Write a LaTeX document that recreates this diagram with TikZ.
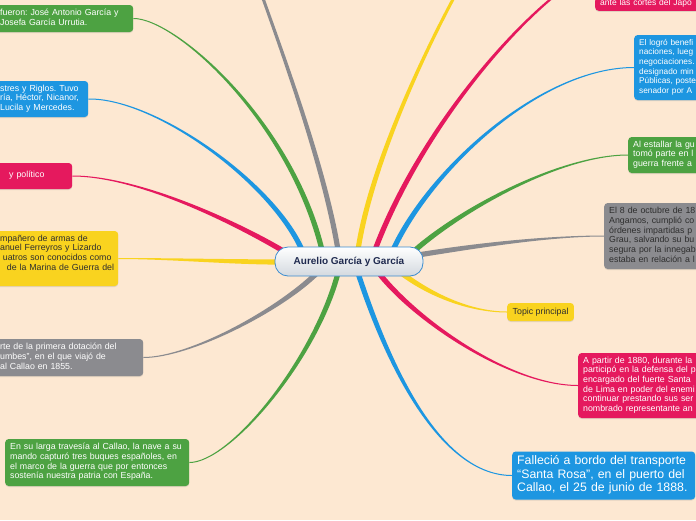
\documentclass[tikz,border=0pt]{standalone}
\usepackage{fontspec}
\setmainfont{Liberation Sans}
\usetikzlibrary{calc,shadows}
\definecolor{bgc}{HTML}{FDE8D2}
\definecolor{cgreen}{HTML}{4DA242}
\definecolor{cblue}{HTML}{1D96E1}
\definecolor{cpink}{HTML}{E5195E}
\definecolor{cyellow}{HTML}{F9D31F}
\definecolor{cgray}{HTML}{8B8B8F}
\definecolor{cnavy}{HTML}{1F2A4F}
\definecolor{cborder}{HTML}{3C8DD0}
\definecolor{cbot}{HTML}{D3D9DF}
\definecolor{cdark}{HTML}{2E2E2E}
\pgfdeclarelayer{bg}\pgfdeclarelayer{lines}\pgfsetlayers{bg,lines,main}
% #1 colour, #2 start, #3 control 1, #4 control 2, #5 end, #6 end half width
\newcommand\taper[6]{%
  \coordinate (tA) at ($(#2)!2.6pt!90:(#3)$);
  \coordinate (tB) at ($(#2)!2.6pt!-90:(#3)$);
  \coordinate (tC) at ($(#5)!#6!-90:(#4)$);
  \coordinate (tD) at ($(#5)!#6!90:(#4)$);
  \fill[#1] (tA) .. controls ($(#3)+(tA)-(#2)$) and ($(#4)+(tC)-(#5)$) .. (tC)
    -- (tD) .. controls ($(#4)+(tD)-(#5)$) and ($(#3)+(tB)-(#2)$) .. (tB) -- cycle;
}
\begin{document}
\begin{tikzpicture}[x=1pt,y=-1pt,
  leaf/.style={rounded corners=3.5pt, inner xsep=5pt, inner ysep=0pt, align=left,
    text=white, font=\fontsize{8.8}{9.7}\selectfont\frenchspacing, anchor=west,
    drop shadow={shadow xshift=0pt, shadow yshift=-1pt, opacity=0.22}},
  central/.style={draw=cborder, line width=0.8pt, rounded corners=13pt,
    top color=white, bottom color=cbot, minimum width=148pt, minimum height=29pt,
    font=\fontsize{10}{12}\selectfont\bfseries, text=cnavy}]
\useasboundingbox (0,0) rectangle (696,520);
\begin{pgfonlayer}{bg}
\fill[bgc] (0,0) rectangle (696,520);
\end{pgfonlayer}

\node[central] (C) at (349,261.5) {Aurelio García y García};

% left side
\node[leaf, fill=cgreen, text width=128pt, minimum height=27pt] (g1) at (-5,18.5)
  {\strut fueron: José Antonio García y\\Josefa García Urrutia.\strut};
\node[leaf, fill=cblue, text width=83pt, minimum height=36pt] (b1) at (-5,99)
  {\strut stres y Riglos. Tuvo\\ría, Héctor, Nicanor,\\Lucila y Mercedes.\strut};
\node[leaf, fill=cpink, text width=67pt, minimum height=26pt] (p1) at (-5,176)
  {\strut\hspace*{9pt}y político};
\node[leaf, fill=cyellow, text=cdark, text width=113pt, minimum height=55pt] (y1) at (-5,258.5)
  {\strut mpañero de armas de\\\mbox{anuel Ferreyros y Lizardo}\\\mbox{\hspace*{2.7pt}uatros son conocidos como}\\\mbox{\hspace*{6.7pt}de la Marina de Guerra del}\\\strut};
\node[leaf, fill=cgray, text width=138pt, minimum height=37pt] (gr1) at (-5,357.5)
  {\strut rte de la primera dotación del\\umbes”, en el que viajó de\\al Callao en 1855.\strut};
\node[leaf, fill=cgreen, text width=174pt, minimum height=47pt] (g2) at (5,462.5)
  {\strut En su larga travesía al Callao, la nave a su\\mando capturó tres buques españoles, en\\el marco de la guerra que por entonces\\sostenía nuestra patria con España.\strut};

% right side
\node[leaf, fill=cpink, font=\fontsize{8.5}{9.7}\selectfont, text width=100pt, inner ysep=2pt, anchor=south west] (p2) at (595,11)
  {\strut ante las cortes del Japo};
\node[leaf, fill=cblue, font=\fontsize{8.3}{9.7}\selectfont, text width=100pt, minimum height=65pt] (b2) at (634,67.5)
  {\strut El logró benefi\\naciones, lueg\\negociaciones.\\designado min\\Públicas, poste\\senador por A\strut};
\node[leaf, fill=cgreen, text width=100pt, minimum height=36pt] (g3) at (628,155)
  {\strut Al estallar la gu\\tomó parte en l\\guerra frente a\strut};
\node[leaf, fill=cgray, text=cdark, text width=100pt, minimum height=66pt] (gr2) at (604,236)
  {\strut El 8 de octubre de 18\\Angamos, cumplió co\\órdenes impartidas p\\Grau, salvando su bu\\segura por la innegab\\estaba en relación a l\strut};
\node[leaf, fill=cyellow, text=cdark, inner xsep=5.5pt, minimum height=18pt] (y2) at (507,312)
  {Topic principal};
\node[leaf, fill=cpink, text width=120pt, minimum height=65pt] (p3) at (578,385.5)
  {\strut A partir de 1880, durante la\\participó en la defensa del p\\encargado del fuerte Santa\\de Lima en poder del enemi\\continuar prestando sus ser\\nombrado representante an\strut};
\node[leaf, fill=cblue, font=\fontsize{12.3}{13.3}\selectfont, text width=173pt, minimum height=48pt] (b3) at (512,475.5)
  {\strut Falleció a bordo del transporte\\“Santa Rosa”, en el puerto del\\Callao, el 25 de junio de 1888.\strut};

% free ends of branches whose topics lie outside the picture
\coordinate (gr0e) at (260,-10);
\coordinate (y0e) at (458,-10);
\coordinate (p2e) at (595,-32);

\begin{pgfonlayer}{lines}
\coordinate (sg1) at ($(C.center)+(-27,-11.5)$);
\coordinate (sb1) at ($(C.center)+(-47,-11.5)$);
\coordinate (sp1) at ($(C.center)+(-64,-9.5)$);
\coordinate (sy1) at ($(C.center)+(-69,0.5)$);
\coordinate (sgr1) at ($(C.center)+(-31,10.5)$);
\coordinate (sg2) at ($(C.center)+(-11,11.5)$);
\coordinate (sgr0) at ($(C.center)+(-11,-11.5)$);
\coordinate (sy0) at ($(C.center)+(9,-11.5)$);
\coordinate (sp2) at ($(C.center)+(26,-11.5)$);
\coordinate (sb2) at ($(C.center)+(44,-11.5)$);
\coordinate (sg3) at ($(C.center)+(64,-9.5)$);
\coordinate (sgr2) at ($(C.center)+(69,-6.5)$);
\coordinate (sy2) at ($(C.center)+(51,10.5)$);
\coordinate (sp3) at ($(C.center)+(29,10.5)$);
\coordinate (sb3) at ($(C.center)+(9,11.5)$);

\taper{cgreen}{sg1}{290,120}{175,18}{g1.east}{0.5pt}
\taper{cblue}{sb1}{272,182}{155,98}{b1.east}{0.5pt}
\taper{cpink}{sp1}{240,225}{140,176}{p1.east}{0.5pt}
\taper{cyellow}{sy1}{230,262}{170,258.5}{y1.east}{0.5pt}
\taper{cgray}{sgr1}{280,310}{190,357.5}{gr1.east}{0.5pt}
\taper{cgreen}{sg2}{315,360}{230,462.5}{g2.east}{0.5pt}
\taper{cgray}{sgr0}{325,170}{285,60}{gr0e}{1.5pt}
\taper{cyellow}{sy0}{370,170}{420,60}{y0e}{1.5pt}
\taper{cpink}{sp2}{420,130}{525,5}{p2e}{1pt}
\taper{cblue}{sb2}{430,170}{540,67.5}{b2.west}{0.5pt}
\taper{cgreen}{sg3}{460,210}{560,155}{g3.west}{0.5pt}
\taper{cgray}{sgr2}{480,245}{550,236}{gr2.west}{0.5pt}
\taper{cyellow}{sy2}{430,295}{470,312}{y2.west}{0.5pt}
\taper{cpink}{sp3}{415,320}{510,385.5}{p3.west}{0.5pt}
\taper{cblue}{sb3}{388,365}{440,475.5}{b3.west}{0.5pt}
\end{pgfonlayer}
\end{tikzpicture}
\end{document}
